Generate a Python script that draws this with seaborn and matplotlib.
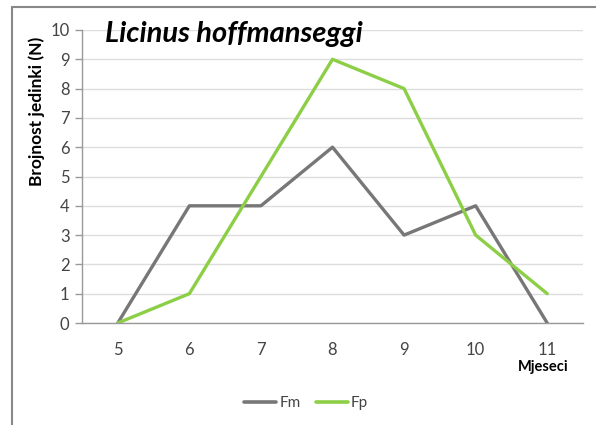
import matplotlib
matplotlib.use("Agg")
import matplotlib.pyplot as plt
from matplotlib.lines import Line2D
import seaborn as sns
import pandas as pd

months = ["5", "6", "7", "8", "9", "10", "11"]
fm = [0, 4, 4, 6, 3, 4, 0]
fp = [0, 1, 5, 9, 8, 3, 1]

df = pd.DataFrame({
    "Mjesec": months * 2,
    "N": fm + fp,
    "Serija": ["Fm"] * len(months) + ["Fp"] * len(months),
})

sns.set_theme(style="white")
plt.rcParams["font.family"] = ["Lato", "DejaVu Sans"]

fig = plt.figure(figsize=(5.96, 4.25), dpi=100)
ax = fig.add_axes([82 / 596, 1 - 323 / 425, (583 - 82) / 596, (323 - 30) / 425])

palette = {"Fm": "#777777", "Fp": "#8ccf47"}
sns.lineplot(data=df, x="Mjesec", y="N", hue="Serija", palette=palette,
             linewidth=2.4, ax=ax, legend=False, sort=False)

ax.set_xlim(-0.5, len(months) - 0.5)
ax.set_ylim(0, 10)
ax.set_yticks(range(0, 11))
ax.set_xticks(range(len(months)))
ax.set_xticklabels(months)
ax.set_xticks([i - 0.5 for i in range(len(months) + 1)], minor=True)
ax.tick_params(axis="x", which="major", length=0, pad=14, labelsize=12, labelcolor="#444444")
ax.tick_params(axis="x", which="minor", length=5, width=1, color="#999999", direction="out")
ax.tick_params(axis="y", length=5, width=1, color="#999999", direction="out",
               labelsize=12, labelcolor="#444444", pad=4, left=True)
ax.grid(axis="y", color="#dddddd", linewidth=1)
ax.set_axisbelow(True)
for side in ["top", "right"]:
    ax.spines[side].set_visible(False)
for side in ["left", "bottom"]:
    ax.spines[side].set_color("#999999")
    ax.spines[side].set_linewidth(1)
ax.set_xlabel("")
ax.set_ylabel("")

fig.text(105 / 596, 1 - 34 / 425, "Licinus hoffmanseggi", fontsize=21,
         fontweight="bold", fontstyle="italic", color="black", va="center", ha="left")
fig.text(37 / 596, 1 - 111 / 425, "Brojnost jedinki (N)", fontsize=12.5,
         fontweight="bold", rotation=90, va="center", ha="center", color="black")
fig.text(543 / 596, 1 - 367 / 425, "Mjeseci", fontsize=10.5, fontweight="bold",
         va="center", ha="center", color="black")

handles = [Line2D([0], [0], color=palette["Fm"], lw=2.6),
           Line2D([0], [0], color=palette["Fp"], lw=2.6)]
fig.legend(handles, ["Fm", "Fp"], loc="center", bbox_to_anchor=(306 / 596, 1 - 403 / 425),
           ncol=2, frameon=False, fontsize=11, handlelength=2.1, handletextpad=0.2,
           columnspacing=1.0, labelcolor="#444444")

# outer chart border (left and top edges)
fig.add_artist(Line2D([12 / 596, 12 / 596], [0, 1 - 7 / 425], color="#888888", lw=1.5,
                      transform=fig.transFigure))
fig.add_artist(Line2D([12 / 596, 1], [1 - 7 / 425, 1 - 7 / 425], color="#888888", lw=1.5,
                      transform=fig.transFigure))

fig.savefig("out.png", dpi=100)
